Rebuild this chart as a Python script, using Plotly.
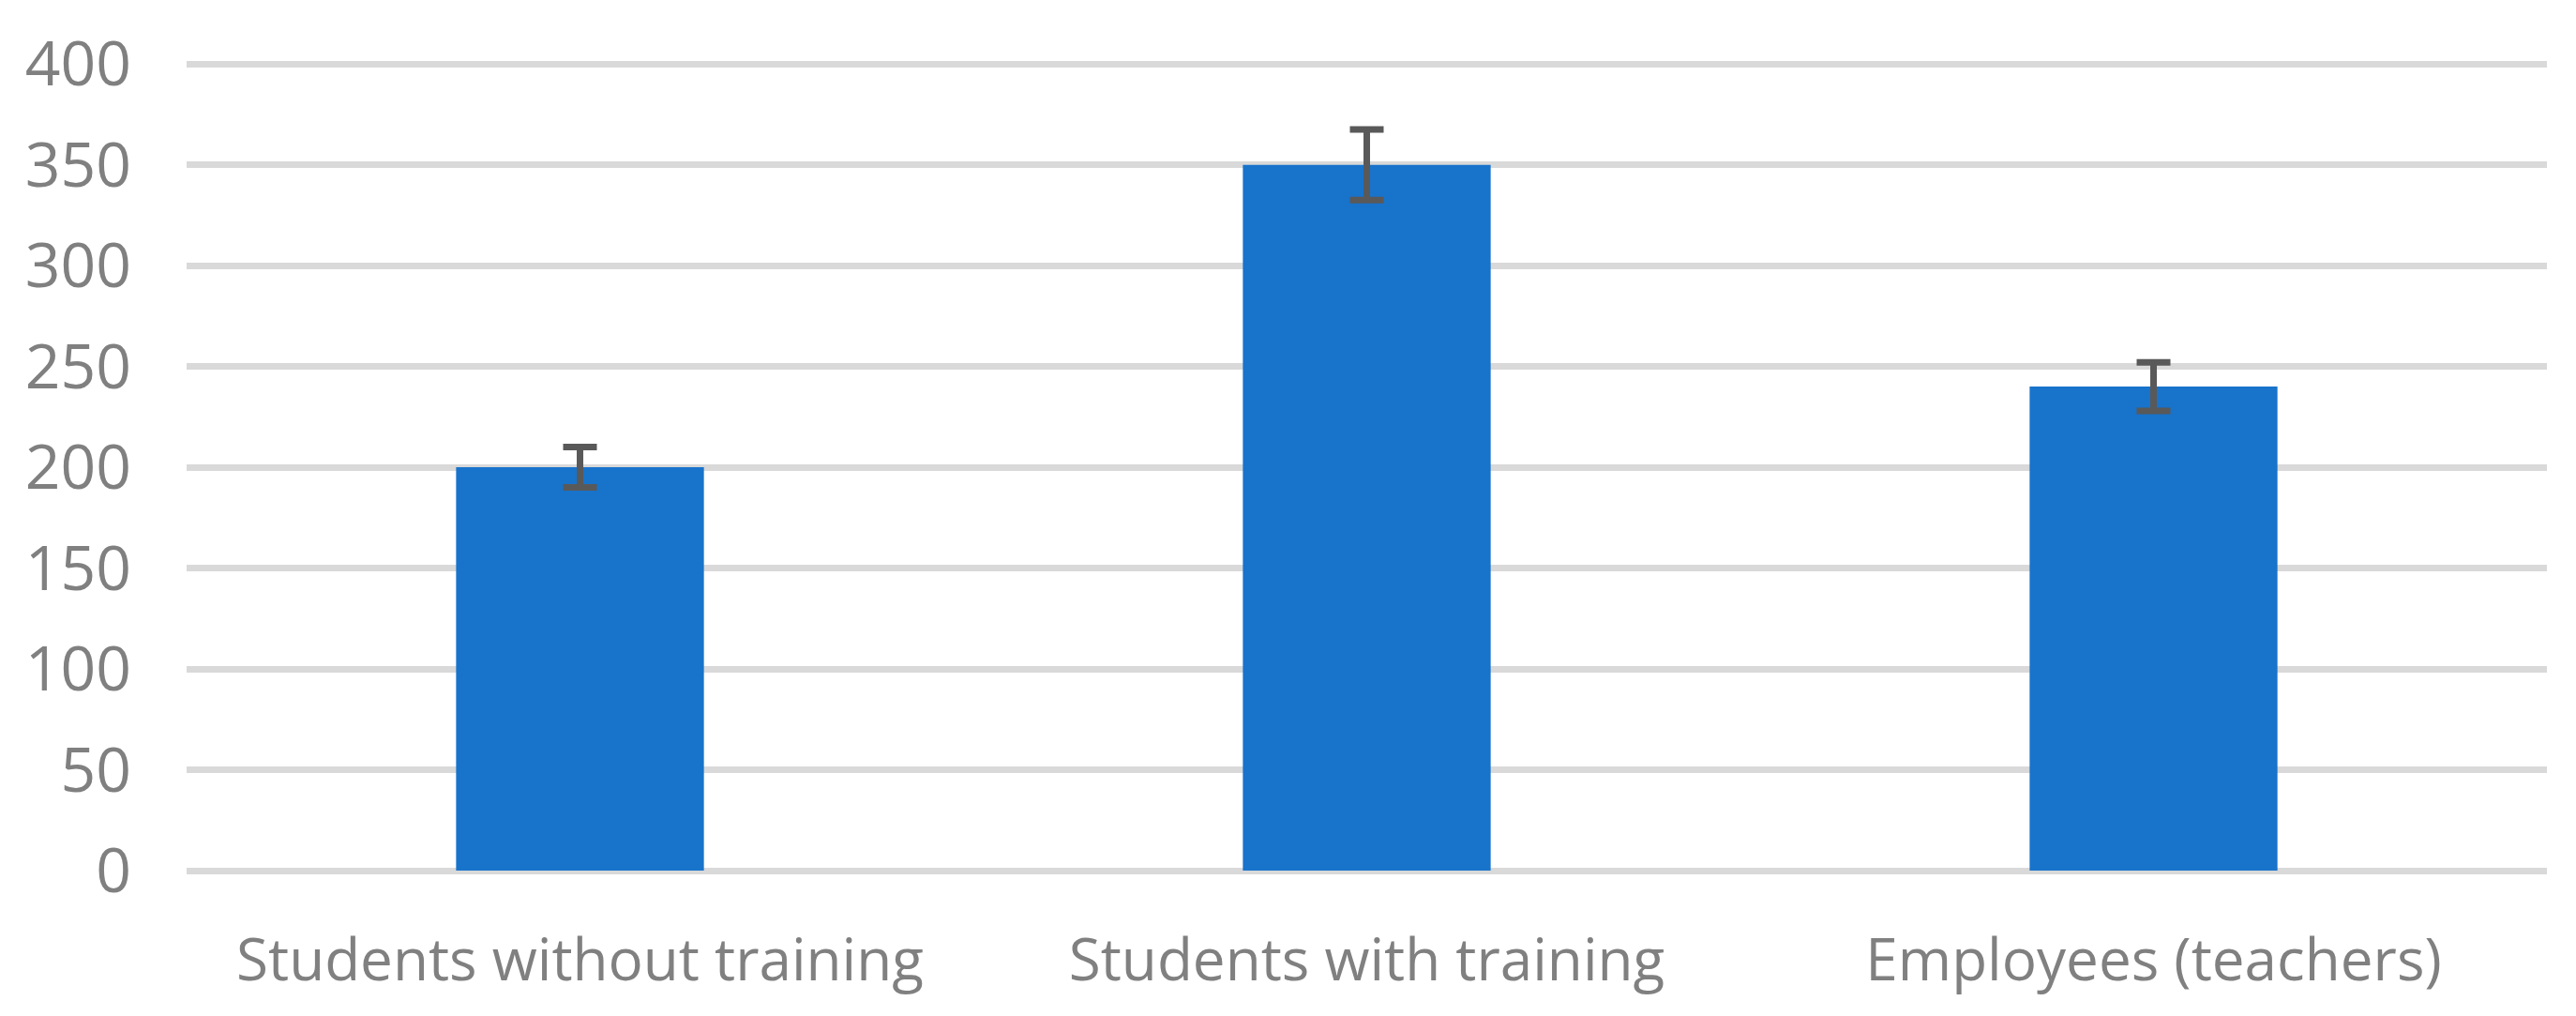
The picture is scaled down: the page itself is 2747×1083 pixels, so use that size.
import plotly.graph_objects as go

# data
categories = ["Students without training", "Students with training", "Employees (teachers)"]
values = [200, 350, 240]
errors = [10, 17.5, 12]
y_ticks = [0, 50, 100, 150, 200, 250, 300, 350, 400]

BAR = "#1873CB"
ERR = "#595959"
GRID = "#D9D9D9"
TEXT = "#808080"

fig = go.Figure(go.Bar(
    x=categories, y=values,
    marker={"color": BAR, "line": {"width": 0}},
    error_y={"type": "data", "array": errors, "visible": True,
             "color": ERR, "thickness": 7, "width": 18},
))

# the page body adds an 8px offset, margins are trimmed to make up for it
fig.update_layout(
    width=2747, height=1083,
    paper_bgcolor="white", plot_bgcolor="white",
    font={"family": "Open Sans, sans-serif", "color": TEXT, "size": 62},
    margin={"l": 191, "r": 39, "t": 58, "b": 163},
    bargap=0.685,
    showlegend=False,
    xaxis={"showgrid": False, "showline": False, "ticks": "",
           "ticklabelstandoff": 54, "tickfont": {"size": 62}},
    yaxis={"range": [0, 401], "tickvals": y_ticks, "gridcolor": GRID,
           "gridwidth": 7, "zeroline": True, "zerolinecolor": GRID,
           "zerolinewidth": 7, "showline": False, "ticks": "",
           "ticklabelstandoff": 58, "tickfont": {"size": 66}},
)

fig.write_html("out.html")
